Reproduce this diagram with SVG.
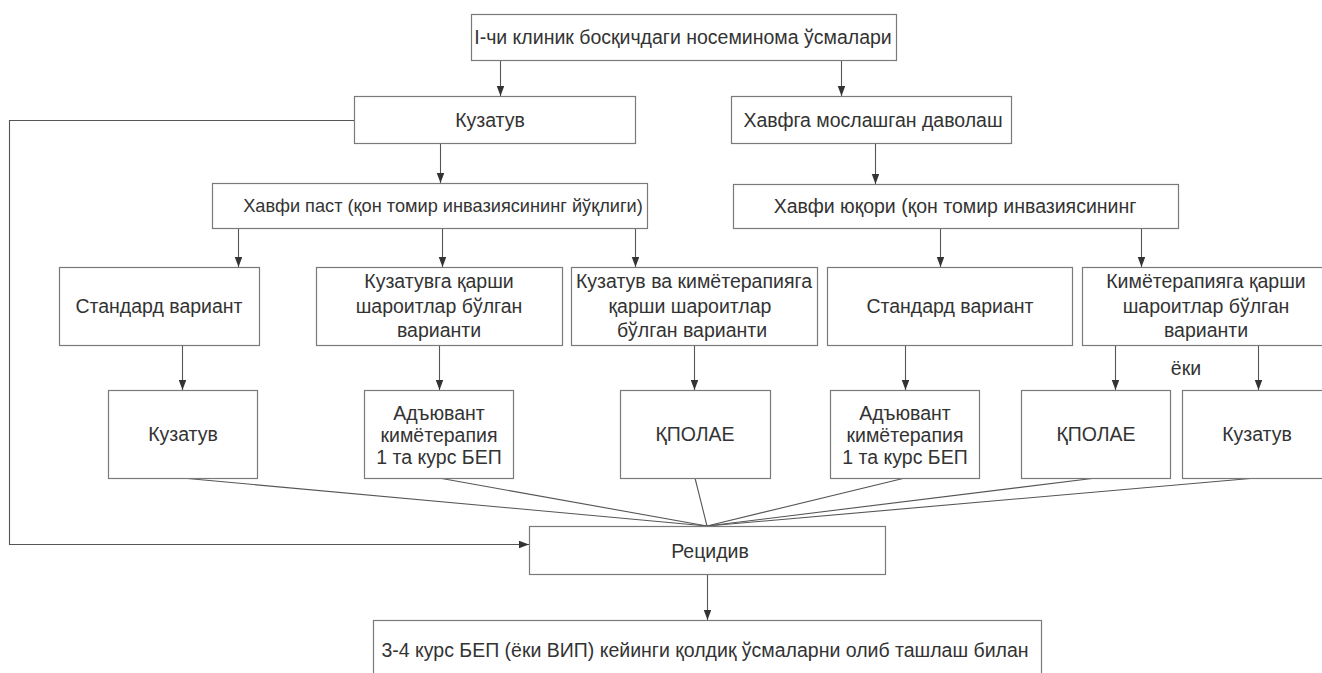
<svg xmlns="http://www.w3.org/2000/svg" width="1322" height="673" viewBox="0 0 1322 673">
<style>
.box{fill:#fff;stroke:#7a7a7a;stroke-width:1.2}
.t{font-family:"Liberation Sans",Arial,sans-serif;font-size:19.5px;fill:#333;text-anchor:middle;dominant-baseline:central}
.c{fill:none;stroke:#555;stroke-width:1.1}
</style>
<defs>
<marker id="ah" markerUnits="userSpaceOnUse" markerWidth="10" markerHeight="8" refX="10" refY="3.75" orient="auto">
<path d="M0,0 L10,3.75 L0,7.5 z" fill="#333"/>
</marker>
</defs>
<rect width="1322" height="673" fill="#fff"/>
<g id="connectors">
<line class="c" x1="500.5" y1="60" x2="500.5" y2="96" marker-end="url(#ah)"/>
<line class="c" x1="841.5" y1="60" x2="841.5" y2="96" marker-end="url(#ah)"/>
<line class="c" x1="440.5" y1="143" x2="440.5" y2="183" marker-end="url(#ah)"/>
<line class="c" x1="875.5" y1="143" x2="875.5" y2="184" marker-end="url(#ah)"/>
<line class="c" x1="238.5" y1="228" x2="238.5" y2="267" marker-end="url(#ah)"/>
<line class="c" x1="442.5" y1="228" x2="442.5" y2="267" marker-end="url(#ah)"/>
<line class="c" x1="635.5" y1="228" x2="635.5" y2="267" marker-end="url(#ah)"/>
<line class="c" x1="940.5" y1="228" x2="940.5" y2="267" marker-end="url(#ah)"/>
<line class="c" x1="1141.5" y1="228" x2="1141.5" y2="267" marker-end="url(#ah)"/>
<line class="c" x1="182.5" y1="345" x2="182.5" y2="390" marker-end="url(#ah)"/>
<line class="c" x1="439.5" y1="345" x2="439.5" y2="390" marker-end="url(#ah)"/>
<line class="c" x1="694.5" y1="345" x2="694.5" y2="390" marker-end="url(#ah)"/>
<line class="c" x1="905.5" y1="345" x2="905.5" y2="390" marker-end="url(#ah)"/>
<line class="c" x1="1115.5" y1="345" x2="1115.5" y2="390" marker-end="url(#ah)"/>
<line class="c" x1="1258.5" y1="345" x2="1258.5" y2="390" marker-end="url(#ah)"/>
<line class="c" x1="182" y1="478" x2="707" y2="526"/>
<line class="c" x1="439" y1="478" x2="707" y2="526"/>
<line class="c" x1="695" y1="478" x2="707" y2="526"/>
<line class="c" x1="905" y1="478" x2="707" y2="526"/>
<line class="c" x1="1096" y1="478" x2="707" y2="526"/>
<line class="c" x1="1256" y1="478" x2="707" y2="526"/>
<polyline class="c" points="354,120.5 9.5,120.5 9.5,544.5 529,544.5" marker-end="url(#ah)"/>
<line class="c" x1="707.5" y1="574" x2="707.5" y2="620" marker-end="url(#ah)"/>
</g>
<g id="n_top"><rect class="box" x="471.5" y="14.5" width="425" height="46"/><text class="t" x="683" y="37">I-чи клиник босқичдаги носеминома ўсмалари</text></g>
<g id="n_kuzatuv"><rect class="box" x="354.5" y="96.5" width="281" height="47"/><text class="t" x="490" y="120">Кузатув</text></g>
<g id="n_havfga"><rect class="box" x="731.5" y="96.5" width="280" height="47"/><text class="t" x="873" y="120">Хавфга мослашган даволаш</text></g>
<g id="n_past"><rect class="box" x="212.5" y="183.5" width="435" height="45"/><text class="t" x="443" y="206" style="font-size:18.2px">Хавфи паст (қон томир инвазиясининг йўқлиги)</text></g>
<g id="n_yuqori"><rect class="box" x="733.5" y="184.5" width="445" height="44"/><text class="t" x="955" y="206">Хавфи юқори (қон томир инвазиясининг</text></g>
<g id="n_std1"><rect class="box" x="59.5" y="267.5" width="200" height="78"/><text class="t" x="159" y="306">Стандард вариант</text></g>
<g id="n_kqv"><rect class="box" x="316.5" y="267.5" width="246" height="78"/><text class="t" x="439" y="281">Кузатувга қарши</text><text class="t" x="439" y="306">шароитлар бўлган</text><text class="t" x="439" y="330">варианти</text></g>
<g id="n_kvk"><rect class="box" x="571.5" y="267.5" width="246" height="78"/><text class="t" x="694" y="281">Кузатув ва кимётерапияга</text><text class="t" x="690" y="306">қарши шароитлар</text><text class="t" x="692" y="330">бўлган варианти</text></g>
<g id="n_std2"><rect class="box" x="827.5" y="267.5" width="245" height="78"/><text class="t" x="950" y="306">Стандард вариант</text></g>
<g id="n_kq"><rect class="box" x="1082.5" y="267.5" width="250" height="78"/><text class="t" x="1206" y="281">Кимётерапияга қарши</text><text class="t" x="1206" y="306">шароитлар бўлган</text><text class="t" x="1206" y="330">варианти</text></g>
<text class="t" x="1186" y="368">ёки</text>
<g id="n_kuz_l1"><rect class="box" x="108.5" y="390.5" width="149" height="88"/><text class="t" x="183" y="434">Кузатув</text></g>
<g id="n_adj1"><rect class="box" x="364.5" y="390.5" width="149" height="88"/><text class="t" x="439" y="413">Адъювант</text><text class="t" x="439" y="435">кимётерапия</text><text class="t" x="439" y="457">1 та курс БЕП</text></g>
<g id="n_kpolae1"><rect class="box" x="620.5" y="390.5" width="150" height="88"/><text class="t" x="695" y="434">ҚПОЛАЕ</text></g>
<g id="n_adj2"><rect class="box" x="830.5" y="390.5" width="149" height="88"/><text class="t" x="905" y="413">Адъювант</text><text class="t" x="905" y="435">кимётерапия</text><text class="t" x="905" y="457">1 та курс БЕП</text></g>
<g id="n_kpolae2"><rect class="box" x="1021.5" y="390.5" width="149" height="88"/><text class="t" x="1096" y="434">ҚПОЛАЕ</text></g>
<g id="n_kuz_l2"><rect class="box" x="1182.5" y="390.5" width="150" height="88"/><text class="t" x="1257" y="434">Кузатув</text></g>
<g id="n_retsidiv"><rect class="box" x="529.5" y="526.5" width="356" height="48"/><text class="t" x="710" y="551">Рецидив</text></g>
<g id="n_final"><rect class="box" x="373.5" y="620.5" width="668" height="70"/><text class="t" x="705" y="650">3-4 курс БЕП (ёки ВИП) кейинги қолдиқ ўсмаларни олиб ташлаш билан</text></g>
</svg>
